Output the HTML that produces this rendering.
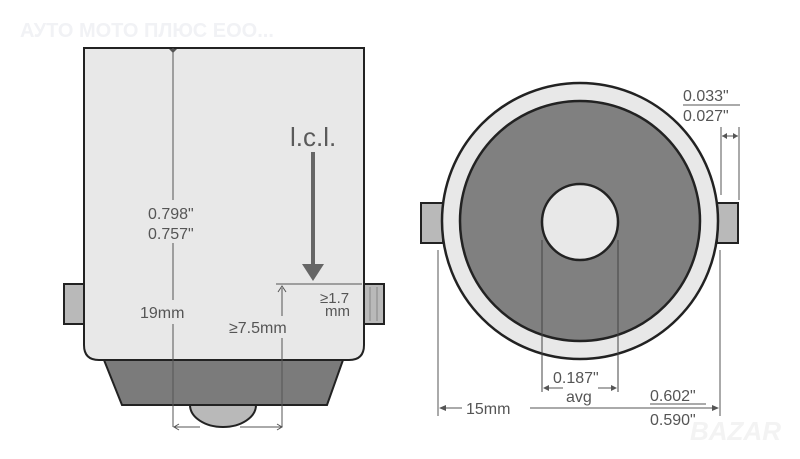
<!DOCTYPE html>
<html><head><meta charset="utf-8"><style>
html,body{margin:0;padding:0;background:#fff;width:800px;height:459px;overflow:hidden}
svg{display:block}
text{font-family:"Liberation Sans",sans-serif;fill:#555}
</style></head><body>
<svg width="800" height="459" viewBox="0 0 800 459" xmlns="http://www.w3.org/2000/svg">
<text x="20" y="37" font-size="20" font-weight="bold" style="fill:#f1f2f5;font-family:'Liberation Sans','DejaVu Sans',sans-serif">АУТО МОТО ПЛЮС ЕОО...</text>
<!-- left bulb -->
<rect x="64" y="284" width="20" height="40" fill="#b9b9b9" stroke="#222" stroke-width="2"/>
<rect x="362" y="284" width="22" height="40" fill="#b9b9b9" stroke="#222" stroke-width="2"/>
<line x1="370" y1="287" x2="370" y2="321" stroke="#888"/><line x1="377" y1="287" x2="377" y2="321" stroke="#888"/>
<path d="M104,360 L343,360 L327,405 L122,405 Z" fill="#7b7b7b" stroke="#222" stroke-width="2"/>
<path d="M190,405 A33,22 0 0 0 256,405 Z" fill="#b9b9b9" stroke="#222" stroke-width="2"/>
<path d="M84,48 L364,48 L364,345 Q364,360 349,360 L99,360 Q84,360 84,345 Z" fill="#e8e8e8" stroke="#222" stroke-width="2"/>
<line x1="173" y1="48" x2="173" y2="200" stroke="#555"/>
<line x1="173" y1="243" x2="173" y2="300" stroke="#555"/>
<line x1="173" y1="324" x2="173" y2="427" stroke="#555"/>
<path d="M169,49 L173,53 L177,49" fill="#555"/>
<text x="148" y="219" font-size="16">0.798"</text>
<text x="148" y="239" font-size="16">0.757"</text>
<text x="140" y="318" font-size="16">19mm</text>
<text x="290" y="146" font-size="26" style="fill:#5a5a5a">l.c.l.</text>
<line x1="313" y1="152" x2="313" y2="266" stroke="#666" stroke-width="4"/>
<path d="M302,264 L324,264 L313,281 Z" fill="#666"/>
<line x1="276" y1="284" x2="362" y2="284" stroke="#555"/>
<line x1="282" y1="288" x2="282" y2="316" stroke="#555"/>
<line x1="282" y1="338" x2="282" y2="427" stroke="#555"/>
<path d="M278,292 L282,286 L286,292" fill="none" stroke="#555"/>
<text x="229" y="333" font-size="16">≥7.5mm</text>
<text x="320" y="303" font-size="15">≥1.7</text>
<text x="325" y="316" font-size="15">mm</text>
<line x1="174" y1="427" x2="200" y2="427" stroke="#555"/>
<line x1="240" y1="427" x2="282" y2="427" stroke="#555"/>
<path d="M179,424 L174,427 L179,430" fill="none" stroke="#555"/>
<path d="M277,424 L282,427 L277,430" fill="none" stroke="#555"/>
<!-- right view -->
<rect x="421" y="203" width="22" height="40" fill="#b9b9b9" stroke="#222" stroke-width="2"/>
<rect x="717" y="203" width="21" height="40" fill="#b9b9b9" stroke="#222" stroke-width="2"/>
<circle cx="580" cy="221" r="138" fill="#e8e8e8" stroke="#222" stroke-width="2.5"/>
<circle cx="580" cy="221" r="120" fill="#808080" stroke="#222" stroke-width="2.5"/>
<circle cx="580" cy="222" r="38" fill="#e8e8e8" stroke="#222" stroke-width="2.5"/>
<line x1="542" y1="240" x2="542" y2="392" stroke="#444"/>
<line x1="618" y1="240" x2="618" y2="392" stroke="#444"/>
<line x1="544" y1="388" x2="563" y2="388" stroke="#555"/><line x1="598" y1="388" x2="616" y2="388" stroke="#555"/>
<path d="M549,385 L543,388 L549,391" fill="#555"/><path d="M611,385 L617,388 L611,391" fill="#555"/>
<text x="553" y="383" font-size="16">0.187"</text>
<text x="566" y="402" font-size="16">avg</text>
<line x1="438" y1="250" x2="438" y2="416" stroke="#555"/>
<line x1="720" y1="250" x2="720" y2="416" stroke="#555"/>
<line x1="440" y1="408" x2="462" y2="408" stroke="#555"/><line x1="530" y1="408" x2="718" y2="408" stroke="#555"/>
<path d="M446,405 L439,408 L446,411" fill="#555"/><path d="M712,405 L719,408 L712,411" fill="#555"/>
<text x="466" y="414" font-size="16">15mm</text>
<text x="650" y="401" font-size="16">0.602"</text>
<line x1="650" y1="404" x2="706" y2="404" stroke="#555"/>
<text x="650" y="425" font-size="16">0.590"</text>
<text x="683" y="101" font-size="16">0.033"</text>
<line x1="683" y1="105" x2="740" y2="105" stroke="#555"/>
<text x="683" y="121" font-size="16">0.027"</text>
<line x1="721" y1="127" x2="721" y2="195" stroke="#555"/>
<line x1="739" y1="127" x2="739" y2="200" stroke="#555"/>
<line x1="722" y1="136" x2="738" y2="136" stroke="#555"/>
<path d="M727,133 L722,136 L727,139" fill="#555"/><path d="M733,133 L738,136 L733,139" fill="#555"/>
<text x="690" y="440" font-size="26" font-weight="bold" style="fill:#f3f3f3;font-style:italic">BAZAR</text>
</svg>
</body></html>
